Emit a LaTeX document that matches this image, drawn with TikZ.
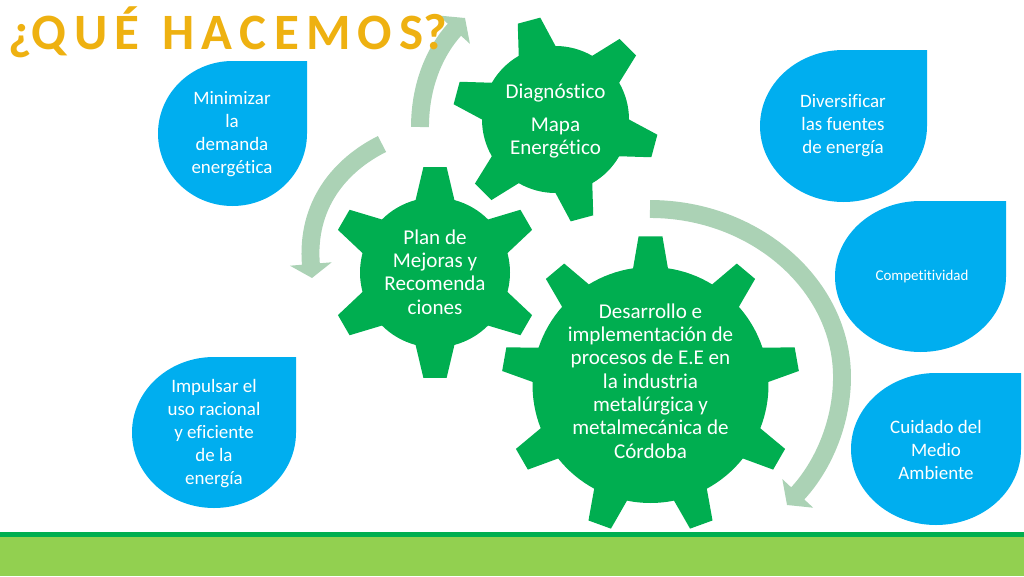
\documentclass[tikz,border=0pt]{standalone}
\usepackage{fontspec}
\setmainfont{Carlito}[Ligatures=CommonOff]
\usetikzlibrary{arrows.meta}
\definecolor{geargreen}{HTML}{00AE50}
\definecolor{dropblue}{HTML}{00AEEF}
\definecolor{arcgreen}{HTML}{ABD2B5}
\definecolor{titlegold}{HTML}{EEB111}
\definecolor{bandgreen}{HTML}{92D050}
\tikzset{
	geartext/.style={text=white,align=center,inner sep=0pt,font=\fontsize{12}{13.3}\selectfont},
	droptext/.style={text=white,align=center,inner sep=0pt,font=\fontsize{10.8}{13.1}\selectfont},
	turnarrow/.style={draw=arcgreen,line width=10.2pt},
}
\newcommand{\gearshape}[7]{
	\fill[geargreen,shift={(#1)}] (#5-#6:#2)
		\foreach \k [evaluate=\k as \t using #5+(\k-1)*360/#4] in {1,...,#4}{
			-- (\t-#6:#2) -- (\t-#7:#3) -- (\t+#7:#3) -- (\t+#6:#2)
			arc[start angle=\t+#6,end angle=\t+360/#4-#6,radius=#2]
		} -- cycle;
}
\newcommand{\dropshape}[4]{
	\fill[dropblue] ({(#1+#3)/2},#4) -- (#3,#4) -- (#3,{(#2+#4)/2})
		arc[start angle=0,end angle=-270,x radius={(#3-#1)/2},y radius={(#4-#2)/2}] -- cycle;
}
\begin{document}
\begin{tikzpicture}[x=0.02cm,y=0.02cm]
	\useasboundingbox (0,0) rectangle (1024,576);
	\fill[bandgreen] (0,0) rectangle (1024,39);
	\fill[geargreen] (0,39) rectangle (1024,44.5);

	\coordinate (bigstart) at (650,367);
	\coordinate (bigend) at (787,71);
	\coordinate (planstart) at (382,432);
	\coordinate (planend) at (312,298);
	\coordinate (diagstart) at (420,449);
	\coordinate (diagend) at (465,558);
	\draw[turnarrow,-{Triangle[length=9pt,width=23.5pt]}] (bigstart) .. controls (755,367) and (842,291) .. (842,199) .. controls (842,156) and (825,112) .. (bigend);
	\draw[turnarrow,-{Triangle[length=8pt,width=23.5pt]}] (planstart) .. controls (340,411) and (306,371) .. (planend);
	\draw[turnarrow,-{Triangle[length=9pt,width=23.5pt]}] (diagstart) .. controls (420,491) and (435,525) .. (diagend);

	\gearshape{650.5,191}{118}{149}{9}{90}{8.5}{4.6}
	\gearshape{435,303.5}{75}{106}{6}{90}{15}{6.3}
	\gearshape{555.5,456.5}{73.5}{103}{6}{105}{15}{6.5}

	\dropshape{158}{370}{307}{515}
	\dropshape{760}{374}{927}{526}
	\dropshape{835}{224}{1006}{375}
	\dropshape{851}{51}{1021}{203}
	\dropshape{132}{68}{296}{219}

	\node[geartext] (diag) at (555.5,455) {Diagnóstico\\[5.5pt]Mapa\\Energético};
	\node[geartext] (plan) at (435,304) {Plan de\\Mejoras y\\Recomenda\\ciones};
	\node[geartext] (impl) at (650.5,195) {Desarrollo e\\implementación de\\procesos de E.E en\\la industria\\metalúrgica y\\metalmecánica de\\Córdoba};
	\node[droptext] (minim) at (232,442) {Minimizar\\la\\demanda\\energética};
	\node[droptext] (diver) at (843,450.5) {Diversificar\\las fuentes\\de energía};
	\node[droptext,font=\fontsize{8.5}{10}\selectfont] (compet) at (922,299) {Competitividad};
	\node[droptext] (cuida) at (936,126.5) {Cuidado del\\Medio\\Ambiente};
	\node[droptext] (impul) at (214,142.5) {Impulsar el\\uso racional\\y eficiente\\de la\\energía};
	\node[text=titlegold,anchor=west,inner sep=0pt,font=\fontsize{29}{30}\selectfont\bfseries] (title) at (8,544) {\spaceskip=4.1pt\relax ¿Q U É\hspace{9pt} H A C E M O S?};
\end{tikzpicture}
\end{document}
